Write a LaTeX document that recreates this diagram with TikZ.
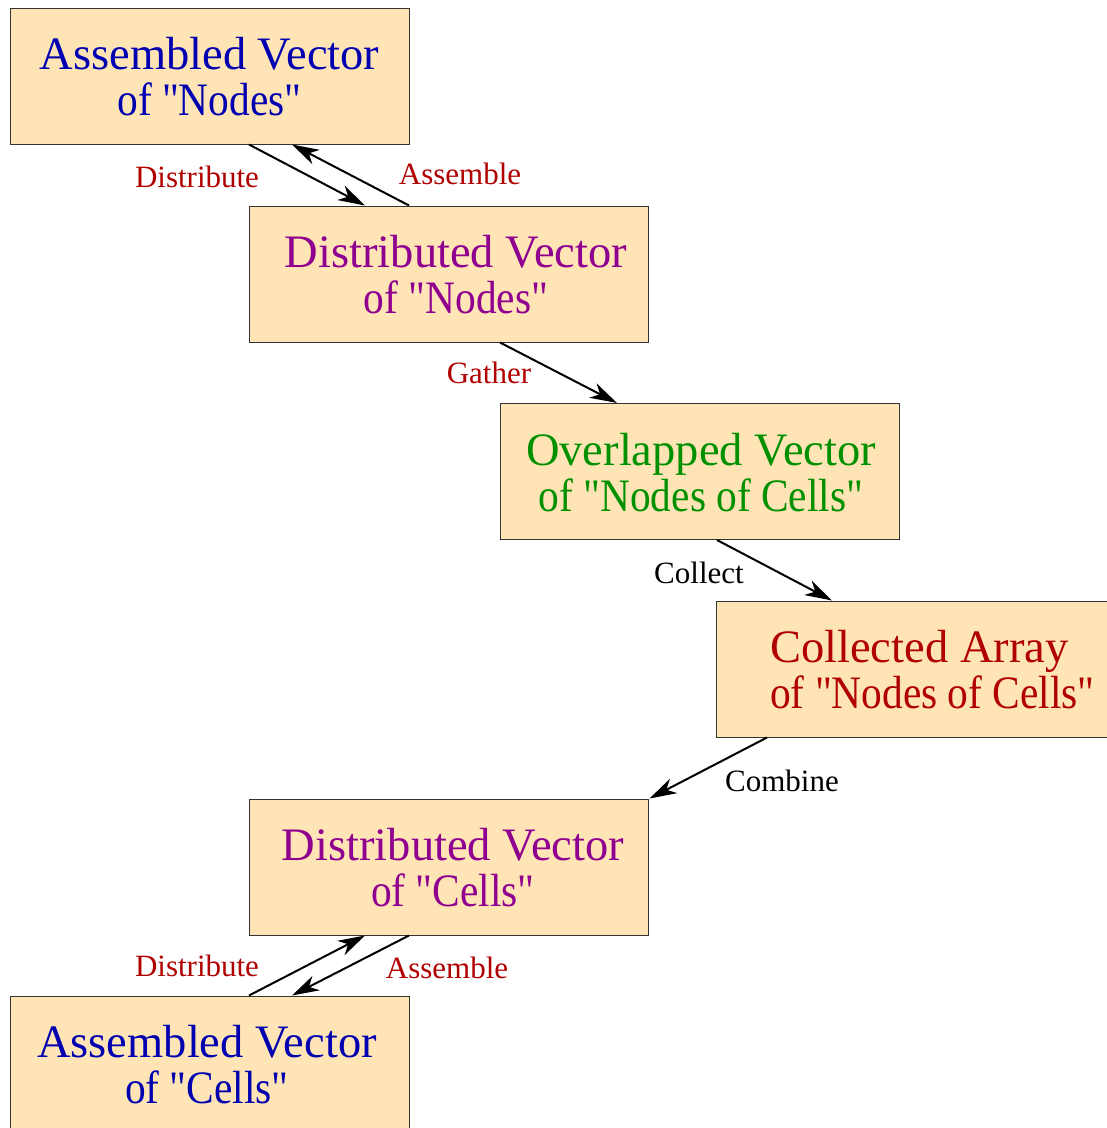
\documentclass[tikz,border=0pt]{standalone}
\usepackage{fontspec}
\setmainfont{Liberation Serif}[Ligatures=TeXOff]
\usetikzlibrary{arrows.meta,calc}
\definecolor{boxfill}{HTML}{FFE4B5}
\definecolor{cblue}{HTML}{0000B0}
\definecolor{cpurple}{HTML}{900090}
\definecolor{cgreen}{HTML}{009000}
\definecolor{cred}{HTML}{B00000}
\newcommand{\sndline}[1]{\scalebox{0.89}[1]{#1}}
\tikzset{
  box/.style={draw=black!80, line width=1pt, fill=boxfill, minimum width=399pt, minimum height=136pt, inner sep=0pt},
  bigtxt/.style={font=\fontsize{46.5}{46}\selectfont, align=center, inner sep=0pt},
  lbl/.style={font=\fontsize{31}{33}\selectfont, inner sep=0pt},
  conn/.style={line width=2pt, -{Stealth[length=27pt, width=16pt, inset=8pt]}},
}
\begin{document}
\begin{tikzpicture}[x=1pt,y=-1pt]
\useasboundingbox (0,0) rectangle (1107,1128);
% boxes
\node[box] (b1) at (209.5,76) {};
\node[box] (b2) at (448.5,274) {};
\node[box] (b3) at (699.5,471.5) {};
\node[box] (b4) at (915.5,669) {};
\node[box] (b5) at (448.5,867) {};
\node[box] (b6) at (209.5,1064) {};
% box texts
\node[bigtxt, text=cblue] (t1) at (209.5,77) {Assembled Vector\\\sndline{of "Nodes"}};
\node[bigtxt, text=cpurple] (t2) at (456,275) {Distributed Vector\\\sndline{of "Nodes"}};
\node[bigtxt, text=cgreen] (t3) at (701,472.5) {Overlapped Vector\\\sndline{of "Nodes of Cells"}};
\node[bigtxt, text=cred, align=left, anchor=west] (t4) at (770,670) {Collected Array\\\sndline{of "Nodes of Cells"}};
\node[bigtxt, text=cpurple] (t5) at (453,868) {Distributed Vector\\\sndline{of "Cells"}};
\node[bigtxt, text=cblue] (t6) at (207,1065) {Assembled Vector\\\sndline{of "Cells"}};
% connectors
\draw[conn] ([xshift=39.5pt]b1.south) -- ([xshift=-83.5pt]b2.north);
\draw[conn] ([xshift=-39.5pt]b2.north) -- ([xshift=82.5pt]b1.south);
\draw[conn] ([xshift=51.5pt]b2.south) -- ([xshift=-82.5pt]b3.north);
\draw[conn] ([xshift=17.5pt]b3.south) -- ([xshift=-83.5pt]b4.north);
\draw[conn] ([xshift=-148.5pt]b4.south) -- ([xshift=1pt]b5.north east);
\draw[conn] ([xshift=39.5pt]b6.north) -- ([xshift=-83.5pt]b5.south);
\draw[conn] ([xshift=-39.5pt]b5.south) -- ([xshift=82.5pt]b6.north);
% labels
\node[lbl, text=cred] (l1) at (197,177) {Distribute};
\node[lbl, text=cred] (l2) at (460,174) {Assemble};
\node[lbl, text=cred] (l3) at (489,373) {Gather};
\node[lbl, text=black] (l4) at (699,573) {Collect};
\node[lbl, text=black] (l5) at (782,781) {Combine};
\node[lbl, text=cred] (l6) at (197,966) {Distribute};
\node[lbl, text=cred] (l7) at (447,968) {Assemble};
\end{tikzpicture}
\end{document}
